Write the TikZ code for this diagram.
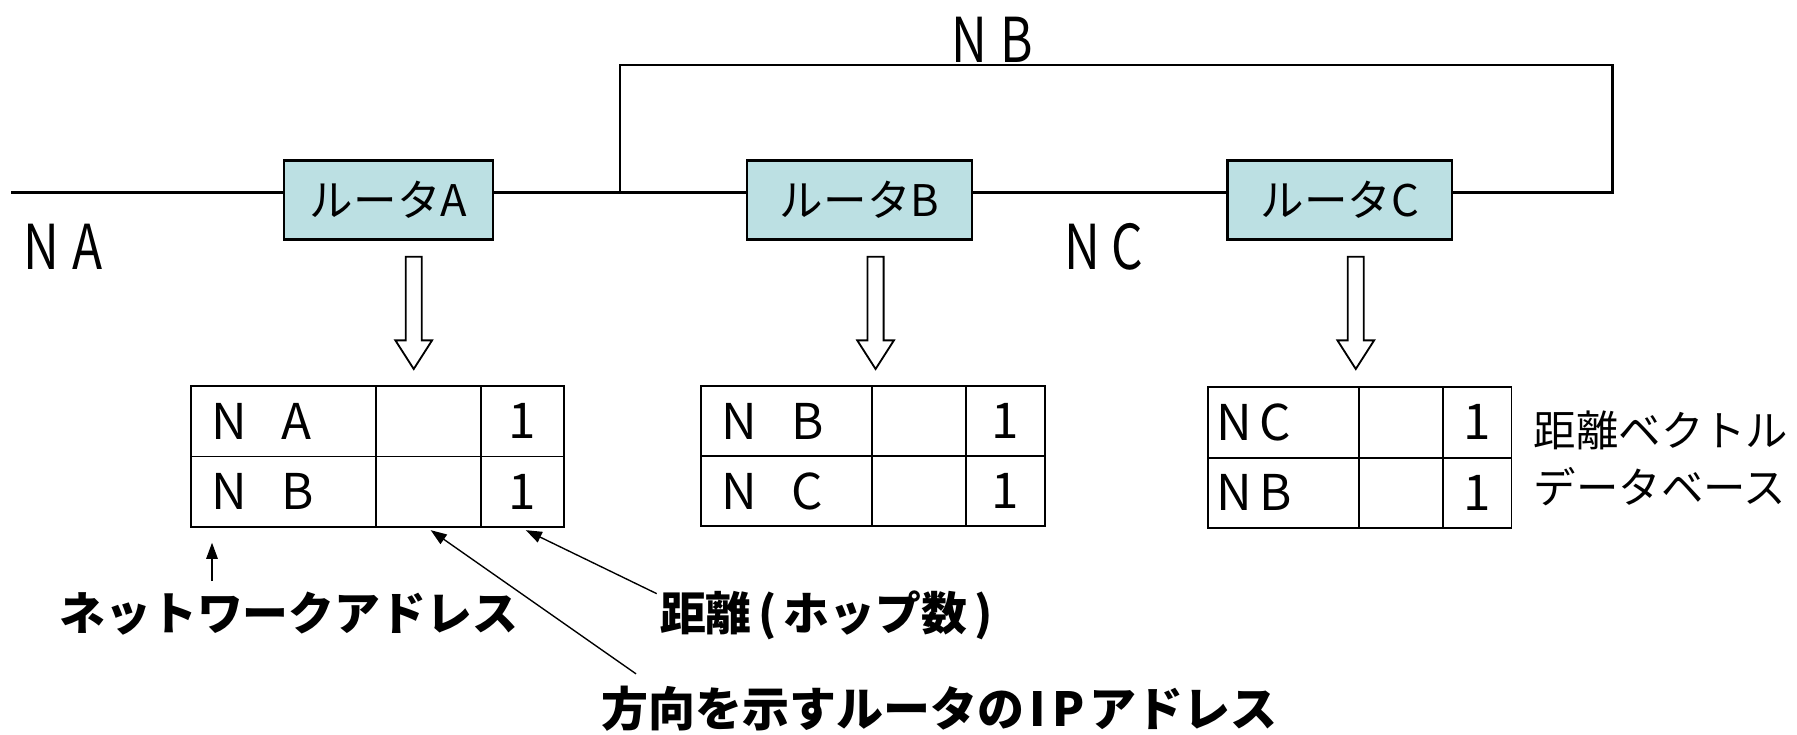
\documentclass[tikz,border=0pt]{standalone}
\usepackage{fontspec}
\setmainfont{Noto Sans CJK JP}
\newfontfamily\cond[FakeStretch=0.8]{Noto Sans CJK JP}
\usetikzlibrary{arrows.meta,calc}
\definecolor{routerfill}{RGB}{188,224,227}
\begin{document}
\begin{tikzpicture}[x=0.5pt,y=-0.5pt,
  router/.style={draw, line width=1pt, fill=routerfill, minimum height=34.5pt, inner sep=0pt, font=\fontsize{19}{19}\selectfont},
  net/.style={line width=1pt},
  netlab/.style={inner sep=0pt, font=\cond\fontsize{27}{27}\selectfont},
  cell/.style={draw, line width=0.8pt, minimum height=30.75pt, inner sep=0pt, anchor=north west, font=\fontsize{21.5}{21.5}\selectfont},
  cellL/.style={cell, align=left, inner xsep=9pt},
  hollow/.style={draw, line width=0.8pt, fill=white},
  note/.style={inner sep=0pt, font=\bfseries\fontsize{20}{20}\selectfont},
  tip/.style={line width=0.6pt, -{Triangle[length=7pt,width=5pt]}}]
\useasboundingbox (0,0) rectangle (1568,641);
% routers
\node[router, minimum width=91pt] (ra) at (339,174.5) {ルータA};
\node[router, minimum width=98pt] (rb) at (750,174.5) {ルータB};
\node[router, minimum width=98pt] (rc) at (1169,174.5) {ルータC};
% network lines
\coordinate (left) at (10,168);
\coordinate (rt) at (1407,168);
\coordinate (tr) at (1407,57);
\coordinate (tl) at (541,57);
\coordinate (bl) at (541,168);
\draw[net] (left) -- (left -| ra.west);
\draw[net] (ra.east |- left) -- (left -| rb.west);
\draw[net] (rb.east |- left) -- (left -| rc.west);
\draw[net] (rc.east |- left) -- (rt) -- (tr) -- (tl) -- (bl);
% network labels
\node[netlab] (nbl) at (866,35) {N\hspace{6pt}B};
\node[netlab] (nal) at (55,215) {N\hspace{6pt}A};
\node[netlab] (ncl) at (963,215) {N\hspace{5pt}C};
% hollow arrows
\foreach \x in {361,764,1183}{
  \draw[hollow] (\x-7,224) -- (\x+7,224) -- (\x+7,297) -- (\x+16,297) -- (\x,322) -- (\x-16,297) -- (\x-7,297) -- cycle;
}
% table A
\node[cellL, minimum width=80.5pt, text width=62.5pt] (ta11) at (166,336) {N\hspace{15pt}A};
\node[cell, minimum width=46pt] (ta12) at (327,336) {};
\node[cell, minimum width=36pt] (ta13) at (419,336) {1};
\node[cellL, minimum width=80.5pt, text width=62.5pt] (ta21) at (166,397.5) {N\hspace{15pt}B};
\node[cell, minimum width=46pt] (ta22) at (327,397.5) {};
\node[cell, minimum width=36pt] (ta23) at (419,397.5) {1};
% table B
\node[cellL, minimum width=74.5pt, text width=56.5pt] (tb11) at (611,336) {N\hspace{15pt}B};
\node[cell, minimum width=41pt] (tb12) at (760,336) {};
\node[cell, minimum width=34.5pt] (tb13) at (842,336) {1};
\node[cellL, minimum width=74.5pt, text width=56.5pt] (tb21) at (611,397) {N\hspace{15pt}C};
\node[cell, minimum width=41pt] (tb22) at (760,397) {};
\node[cell, minimum width=34.5pt] (tb23) at (842,397) {1};
% table C
\node[cellL, minimum width=66pt, text width=58pt, inner xsep=4pt] (tc11) at (1053,337) {N\hspace{3pt}C};
\node[cell, minimum width=36.5pt] (tc12) at (1185,337) {};
\node[cell, minimum width=30pt] (tc13) at (1258,337) {1};
\node[cellL, minimum width=66pt, text width=58pt, inner xsep=4pt] (tc21) at (1053,398.5) {N\hspace{3pt}B};
\node[cell, minimum width=36.5pt] (tc22) at (1185,398.5) {};
\node[cell, minimum width=30pt] (tc23) at (1258,398.5) {1};
% database label
\node[inner sep=0pt, anchor=west, align=left, font=\fontsize{18.5}{25}\selectfont] (db) at (1338,400) {距離ベクトル\\データベース};
% annotations
\node[note] (addr) at (252,535) {ネットワークアドレス};
\node[note] (hop) at (721,537) {距離\hspace{3pt}(\hspace{3pt}ホップ数\hspace{3pt})};
\node[note, font=\bfseries\fontsize{20.5}{20.5}\selectfont] (dir) at (820,618) {方向を示すルータの\hspace{2pt}I\hspace{3pt}P\hspace{2pt}アドレス};
\coordinate (a1s) at (185,507);
\coordinate (a2s) at (555,588);
\coordinate (a3s) at (573,518);
\draw[tip] (a1s) -- ($(ta21.south west)+(19,13)$);
\draw[tip] (a2s) -- ($(ta22.south)+(2,2)$);
\draw[tip] (a3s) -- ($(ta23.south)+(3,2)$);
\end{tikzpicture}
\end{document}
